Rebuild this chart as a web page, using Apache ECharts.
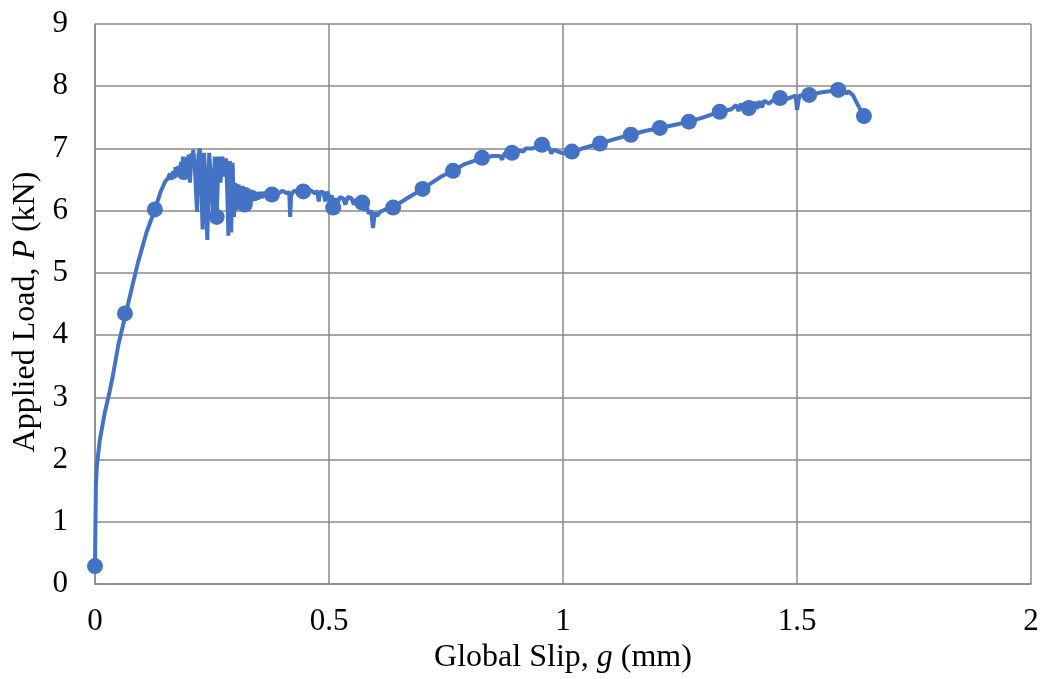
<!DOCTYPE html>
<html>
<head>
<meta charset="utf-8">
<script src="https://cdn.jsdelivr.net/npm/echarts@6/dist/echarts.min.js"></script>
<style>html,body{margin:0;padding:0;background:#fff;}#c{width:1044px;height:679px;}</style>
</head>
<body>
<div id="c"></div>
<script>
const xTicks = [0, 0.5, 1, 1.5, 2];
const yTicks = [0, 1, 2, 3, 4, 5, 6, 7, 8, 9];
const curve = [[0,0.29],[0.001,1.0],[0.002,1.6],[0.004,1.9],[0.01,2.3],[0.021,2.76],[0.03,3.05],[0.038,3.34],[0.05,3.85],[0.066,4.35],[0.08,4.8],[0.092,5.17],[0.11,5.65],[0.128,6.02],[0.14,6.3],[0.15,6.47],[0.156,6.52],[0.16,6.6],[0.163,6.5],[0.167,6.63],[0.17,6.52],[0.172,6.7],[0.176,6.55],[0.178,6.72],[0.18,6.58],[0.184,6.78],[0.186,6.6],[0.188,6.87],[0.19,6.62],[0.192,6.82],[0.194,6.55],[0.196,6.86],[0.198,6.58],[0.2,6.9],[0.203,6.45],[0.206,6.92],[0.208,6.75],[0.21,6.98],[0.214,6.6],[0.218,5.98],[0.221,6.9],[0.224,7.0],[0.227,6.4],[0.23,5.7],[0.233,6.93],[0.236,6.5],[0.24,5.53],[0.244,6.93],[0.248,6.5],[0.252,5.9],[0.256,6.87],[0.26,5.9],[0.264,6.87],[0.268,6.45],[0.272,6.87],[0.276,6.55],[0.28,6.84],[0.283,6.2],[0.285,5.6],[0.288,6.8],[0.291,5.65],[0.294,6.77],[0.297,5.9],[0.299,6.45],[0.301,6.0],[0.303,6.43],[0.305,6.02],[0.307,6.42],[0.309,6.05],[0.311,6.4],[0.313,6.03],[0.315,6.4],[0.317,6.06],[0.319,6.38],[0.321,6.08],[0.323,6.37],[0.325,6.1],[0.327,6.36],[0.329,6.1],[0.331,6.34],[0.333,6.12],[0.335,6.33],[0.337,6.15],[0.339,6.32],[0.342,6.16],[0.345,6.3],[0.348,6.18],[0.352,6.3],[0.356,6.2],[0.36,6.3],[0.365,6.22],[0.37,6.28],[0.378,6.26],[0.39,6.26],[0.4,6.32],[0.41,6.28],[0.415,6.3],[0.417,5.9],[0.419,6.25],[0.425,6.32],[0.435,6.3],[0.442,6.32],[0.452,6.3],[0.46,6.33],[0.47,6.28],[0.475,6.32],[0.478,6.15],[0.481,6.3],[0.488,6.3],[0.492,6.15],[0.495,6.3],[0.5,6.25],[0.503,6.02],[0.506,6.25],[0.509,6.05],[0.513,6.2],[0.518,6.1],[0.523,6.22],[0.53,6.2],[0.535,6.1],[0.54,6.22],[0.548,6.2],[0.553,6.1],[0.558,6.18],[0.565,6.15],[0.571,6.13],[0.576,6.0],[0.58,6.08],[0.585,5.95],[0.59,6.0],[0.594,5.72],[0.598,5.97],[0.603,5.92],[0.609,5.98],[0.62,6.02],[0.634,6.05],[0.65,6.12],[0.667,6.2],[0.685,6.28],[0.7,6.35],[0.72,6.45],[0.74,6.55],[0.765,6.64],[0.79,6.75],[0.81,6.8],[0.827,6.85],[0.85,6.88],[0.865,6.88],[0.87,6.82],[0.875,6.92],[0.89,6.93],[0.9,6.92],[0.905,6.97],[0.915,6.95],[0.92,7.0],[0.935,7.0],[0.955,7.06],[0.97,7.02],[0.975,6.92],[0.98,6.98],[0.99,6.95],[1.0,6.92],[1.02,6.95],[1.05,7.02],[1.079,7.08],[1.11,7.15],[1.145,7.22],[1.175,7.28],[1.207,7.33],[1.24,7.38],[1.269,7.43],[1.3,7.5],[1.335,7.59],[1.36,7.63],[1.37,7.7],[1.375,7.6],[1.38,7.72],[1.385,7.62],[1.39,7.72],[1.395,7.62],[1.4,7.74],[1.405,7.62],[1.41,7.75],[1.415,7.64],[1.42,7.76],[1.425,7.66],[1.43,7.77],[1.44,7.72],[1.45,7.78],[1.464,7.81],[1.48,7.8],[1.497,7.85],[1.5,7.62],[1.505,7.85],[1.526,7.86],[1.55,7.9],[1.57,7.92],[1.588,7.94],[1.6,7.93],[1.605,7.88],[1.61,7.92],[1.62,7.85],[1.63,7.7],[1.643,7.52]];
const markers = [[0,0.29],[0.064,4.35],[0.128,6.02],[0.19,6.62],[0.26,5.9],[0.32,6.1],[0.378,6.26],[0.445,6.31],[0.509,6.05],[0.571,6.13],[0.637,6.05],[0.70,6.35],[0.765,6.64],[0.827,6.85],[0.891,6.93],[0.955,7.06],[1.019,6.95],[1.079,7.08],[1.145,7.22],[1.207,7.33],[1.269,7.43],[1.335,7.59],[1.397,7.65],[1.464,7.81],[1.526,7.86],[1.588,7.94],[1.643,7.52]];

const FONT = 'Liberation Serif';
const FS = 31;
const gridColor = '#8a8a8a';
const chart = echarts.init(document.getElementById('c'), null, {renderer: 'canvas'});
chart.setOption({
  animation: false,
  backgroundColor: '#fff',
  grid: {left: 95, right: 13, top: 24, bottom: 94, containLabel: false},
  xAxis: {
    type: 'value', min: xTicks[0], max: xTicks[xTicks.length-1], interval: 0.5,
    axisLine: {show: true, lineStyle: {color: gridColor, width: 1.5}},
    axisTick: {show: false},
    splitLine: {show: true, lineStyle: {color: gridColor, width: 1.5}},
    axisLabel: {color: '#000', fontFamily: FONT, fontSize: FS, margin: 22},
    name: '{n|Global Slip, }{i|g}{n| (mm)}',
    nameLocation: 'middle', nameGap: 57,
    nameTextStyle: {rich: {n: {fontFamily: FONT, fontSize: 32, color: '#000'}, i: {fontFamily: FONT, fontSize: 32, color: '#000', fontStyle: 'italic'}}}
  },
  yAxis: {
    type: 'value', min: yTicks[0], max: yTicks[yTicks.length-1], interval: 1,
    axisLine: {show: true, lineStyle: {color: gridColor, width: 1.5}},
    axisTick: {show: false},
    splitLine: {show: true, lineStyle: {color: gridColor, width: 1.5}},
    axisLabel: {color: '#000', fontFamily: FONT, fontSize: FS, margin: 27},
    name: '{n|Applied Load, }{i|P}{n| (kN)}',
    nameLocation: 'middle', nameGap: 47,
    nameTextStyle: {padding: [0, 16, 0, 0], rich: {n: {fontFamily: FONT, fontSize: 32, color: '#000'}, i: {fontFamily: FONT, fontSize: 32, color: '#000', fontStyle: 'italic'}}}
  },
  series: [
    {type: 'line', data: curve, showSymbol: false, smooth: false,
     lineStyle: {color: '#4472C4', width: 4}, itemStyle: {color: '#4472C4'}},
    {type: 'scatter', data: markers, symbol: 'circle', symbolSize: 16,
     itemStyle: {color: '#4472C4', opacity: 1}}
  ]
});
</script>
</body>
</html>
